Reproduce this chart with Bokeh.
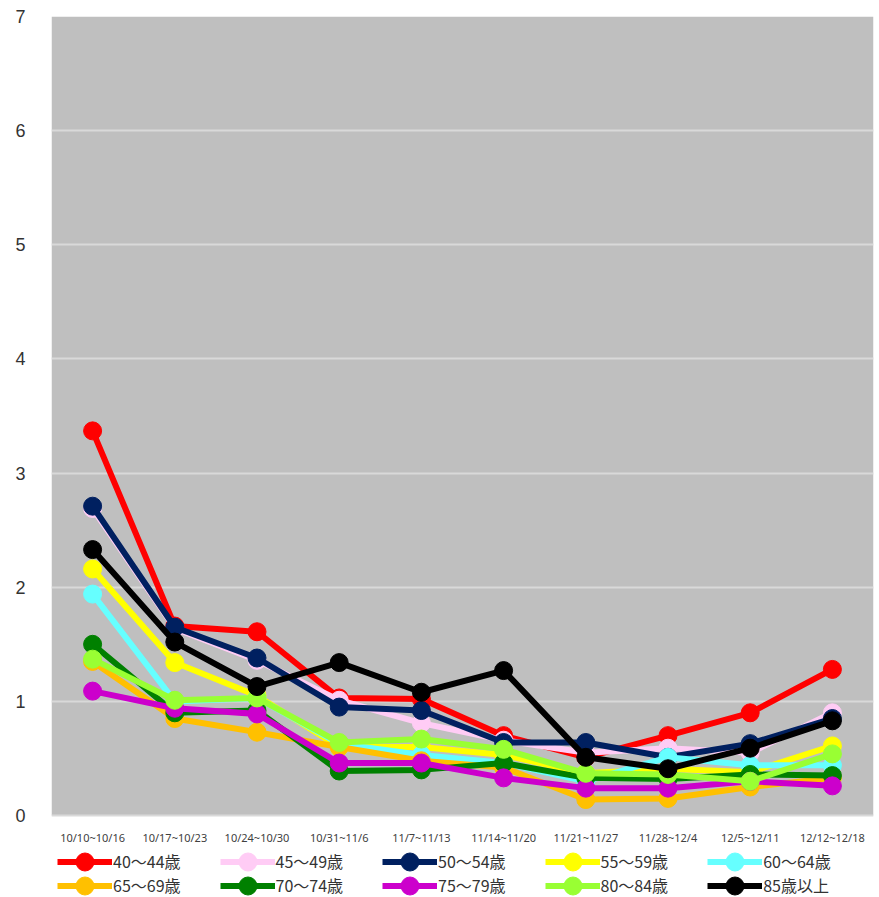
from bokeh.plotting import figure
from bokeh.models import Range1d, FactorRange, Legend, LegendItem, BoxAnnotation
from bokeh.embed import file_html
from bokeh.resources import INLINE

weeks = ["10/10~10/16", "10/17~10/23", "10/24~10/30", "10/31~11/6", "11/7~11/13",
         "11/14~11/20", "11/21~11/27", "11/28~12/4", "12/5~12/11", "12/12~12/18"]

age_40_44 = [3.37, 1.66, 1.61, 1.03, 1.02, 0.70, 0.51, 0.70, 0.90, 1.28]
age_45_49 = [2.69, 1.64, 1.36, 1.01, 0.81, 0.66, 0.55, 0.59, 0.55, 0.90]
age_50_54 = [2.71, 1.65, 1.38, 0.95, 0.92, 0.64, 0.64, 0.51, 0.63, 0.85]
age_55_59 = [2.16, 1.34, 1.05, 0.60, 0.60, 0.53, 0.37, 0.41, 0.38, 0.61]
age_60_64 = [1.94, 1.00, 1.03, 0.63, 0.53, 0.46, 0.30, 0.51, 0.44, 0.44]
age_65_69 = [1.35, 0.85, 0.73, 0.60, 0.48, 0.42, 0.14, 0.15, 0.25, 0.33]
age_70_74 = [1.50, 0.90, 0.92, 0.39, 0.40, 0.46, 0.33, 0.32, 0.36, 0.35]
age_75_79 = [1.09, 0.94, 0.89, 0.46, 0.46, 0.33, 0.24, 0.24, 0.30, 0.26]
age_80_84 = [1.37, 1.01, 1.03, 0.64, 0.67, 0.58, 0.37, 0.36, 0.30, 0.54]
age_85_up = [2.33, 1.52, 1.13, 1.34, 1.08, 1.27, 0.51, 0.41, 0.59, 0.83]

series_names = ["40〜44歳", "45〜49歳", "50〜54歳", "55〜59歳", "60〜64歳",
                "65〜69歳", "70〜74歳", "75〜79歳", "80〜84歳", "85歳以上"]
series_values = [age_40_44, age_45_49, age_50_54, age_55_59, age_60_64,
                 age_65_69, age_70_74, age_75_79, age_80_84, age_85_up]
series_colors = ["#ff0000", "#ffccf5", "#002060", "#ffff00", "#66ffff",
                 "#ffc000", "#008000", "#cc00cc", "#99ff33", "#000000"]

y_ticks = [0, 1, 2, 3, 4, 5, 6, 7]

p = figure(width=879, height=897, x_range=FactorRange(*weeks, range_padding=0),
           y_range=Range1d(-0.718, 7), output_backend="svg", toolbar_location=None,
           min_border_left=51, min_border_right=6, min_border_top=16, min_border_bottom=0)
p.background_fill_color = "white"
p.border_fill_color = "white"
p.outline_line_color = None

p.add_layout(BoxAnnotation(bottom=0, top=7, fill_color="#bfbfbf", fill_alpha=1,
                           line_color=None, level="image"))

p.xgrid.grid_line_color = None
p.ygrid.grid_line_color = "#d9d9d9"
p.ygrid.grid_line_width = 2
p.ygrid.ticker = y_ticks

p.yaxis.ticker = y_ticks
p.yaxis.axis_line_color = None
p.yaxis.major_tick_line_color = None
p.yaxis.minor_tick_line_color = None
p.yaxis.major_label_text_font = "Liberation Sans"
p.yaxis.major_label_text_font_size = "18px"
p.yaxis.major_label_text_color = "#333333"
p.yaxis.major_label_standoff = 20

p.xaxis.fixed_location = 0
p.xaxis.axis_line_color = None
p.xaxis.major_tick_line_color = None
p.xaxis.minor_tick_line_color = None
p.xaxis.major_label_text_font = "Noto Sans"
p.xaxis.major_label_text_font_size = "11px"
p.xaxis.major_label_text_color = "#404040"
p.xaxis.major_label_standoff = 8

items = []
for name, vals, col in zip(series_names, series_values, series_colors):
    r1 = p.line(weeks, vals, line_color=col, line_width=6)
    r2 = p.scatter(weeks, vals, size=18, fill_color=col, line_color=col)
    items.append(LegendItem(label=name, renderers=[r1, r2]))


def make_legend(its, loc):
    lg = Legend(items=its, orientation="horizontal", location=loc)
    lg.label_text_font = "Noto Sans CJK JP"
    lg.label_text_font_size = "16px"
    lg.label_text_color = "#333333"
    lg.glyph_width = 55
    lg.glyph_height = 45
    lg.label_height = 20
    lg.label_standoff = 1
    lg.spacing = 39
    lg.padding = 0
    lg.margin = 0
    lg.border_line_color = None
    lg.background_fill_alpha = 0
    return lg


p.add_layout(make_legend(items[:5], (6, 13.5)))
p.add_layout(make_legend(items[5:], (6, -10.5)))

open("out.html", "w").write(file_html(p, INLINE))
